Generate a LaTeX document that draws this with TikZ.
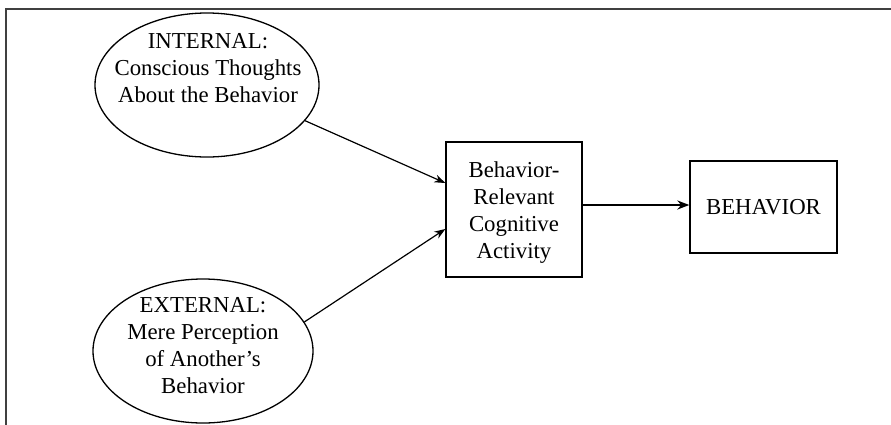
\documentclass[tikz,border=0pt]{standalone}
\usepackage{fontspec}
\setmainfont{Liberation Serif}
\usetikzlibrary{arrows.meta,calc,shapes.geometric}
\begin{document}
\begin{tikzpicture}[x=1pt,y=-1pt,
  every node/.style={font=\fontsize{22.8}{27}\selectfont, align=center},
  oval/.style={draw, line width=1.3pt, ellipse, inner sep=0pt},
  stepbox/.style={draw, line width=1.3pt, rectangle, inner sep=0pt},
  label text/.style={inner sep=0pt},
  link/.style={line width=1.2pt, -{Stealth[length=11pt,width=8pt]}},
  mainlink/.style={line width=2.2pt, -{Stealth[length=12pt,width=9pt]}}]
  \useasboundingbox (0,0) rectangle (891,424);
  % outer frame, open to the right and bottom
  \draw[line width=1.5pt, black!75] (6,430) -- (6,9) -- (900,9);

  % source ellipses
  \node[oval, minimum width=224pt, minimum height=144pt] (topell) at (207,85) {};
  \node[label text] (toptext) at (208,68) {INTERNAL:\\Conscious Thoughts\\About the Behavior};
  \node[oval, minimum width=220pt, minimum height=144pt] (botell) at (203,351) {};
  \node[label text] (bottext) at (203,346) {EXTERNAL:\\Mere Perception\\of Another’s\\Behavior};

  % cognitive activity box and outcome box
  \node[stepbox, minimum width=136pt, minimum height=135pt] (mid) at (514,209.5) {};
  \node[label text] (midtext) at (514,213) {Behavior-\\Relevant\\Cognitive\\Activity};
  \node[stepbox, minimum width=147pt, minimum height=92pt] (beh) at (763.5,207) {BEHAVIOR};

  % connectors
  \draw[link] (topell.-20) -- ($(mid.west)+(0,-26.5)$);
  \draw[link] (botell.16) -- ($(mid.west)+(0,19.5)$);
  \draw[mainlink] (mid.east |- 0,205) -- (beh.west |- 0,205);
\end{tikzpicture}
\end{document}
